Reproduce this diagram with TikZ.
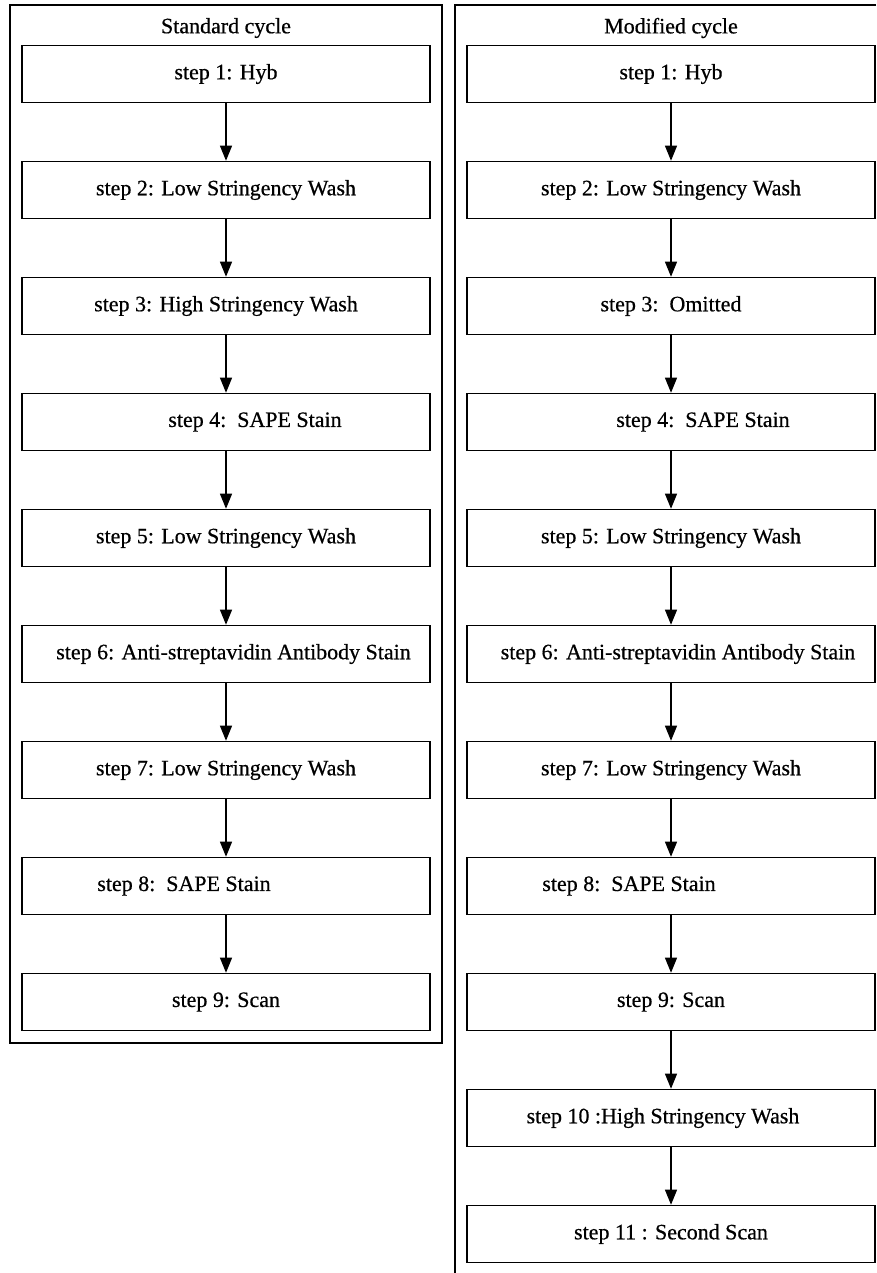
\documentclass[tikz,border=0pt]{standalone}
\usepackage{fontspec}
\setmainfont{Liberation Serif}
\newfontface\stepfont[FakeBold=0.6]{Liberation Serif}
\usetikzlibrary{arrows.meta, positioning}
\tikzstyle{stepbox} = [
    rectangle, 
    minimum width=8.16cm, 
    minimum height=1.15cm,
    text centered, 
    draw=black, 
    line width=0.6pt,
    font=\stepfont\fontsize{12.5}{15}\selectfont
]
\tikzstyle{cluster} = [
    draw=black, 
    line width=0.6pt
]
\tikzstyle{title} = [font=\stepfont\fontsize{12.5}{15}\selectfont]
\tikzstyle{arrow} = [line width=0.6pt,-{Triangle[length=0.3cm, width=0.24cm]}]

\begin{document}
\begin{tikzpicture}[node distance=2.32cm]
\useasboundingbox (0,0) rectangle (17.52,-25.46);

% Frames
\draw [cluster] (0.2,-0.1) rectangle (8.84,-20.86);
\draw [cluster] (17.52,-0.1) -| (9.1,-25.46);

% Standard cycle
\node (s1) [stepbox] at (4.52,-1.48) {step 1: Hyb};
\node (stitle) [title, above of=s1, yshift=-1.40cm] {Standard cycle};
\node (s2) [stepbox, below of=s1] {step 2: Low Stringency Wash};
\node (s3) [stepbox, below of=s2] {step 3: High Stringency Wash};
\node (s4) [stepbox, below of=s3] {\hspace*{1.16cm}step 4:\ \ SAPE Stain};
\node (s5) [stepbox, below of=s4] {step 5: Low Stringency Wash};
\node (s6) [stepbox, below of=s5] {\hspace*{0.3cm}step 6: Anti-streptavidin Antibody Stain};
\node (s7) [stepbox, below of=s6] {step 7: Low Stringency Wash};
\node (s8) [stepbox, below of=s7] {step 8:\ \ SAPE Stain\hspace*{1.68cm}};
\node (s9) [stepbox, below of=s8] {step 9: Scan};

% Modified cycle
\node (m1) [stepbox, right of=s1, xshift=6.58cm] {step 1: Hyb};
\node (mtitle) [title, above of=m1, yshift=-1.40cm] {Modified cycle};
\node (m2) [stepbox, below of=m1] {step 2: Low Stringency Wash};
\node (m3) [stepbox, below of=m2] {step 3:\ \ Omitted};
\node (m4) [stepbox, below of=m3] {\hspace*{1.28cm}step 4:\ \ SAPE Stain};
\node (m5) [stepbox, below of=m4] {step 5: Low Stringency Wash};
\node (m6) [stepbox, below of=m5] {\hspace*{0.28cm}step 6: Anti-streptavidin Antibody Stain};
\node (m7) [stepbox, below of=m6] {step 7: Low Stringency Wash};
\node (m8) [stepbox, below of=m7] {step 8:\ \ SAPE Stain\hspace*{1.68cm}};
\node (m9) [stepbox, below of=m8] {step 9: Scan};
\node (m10) [stepbox, below of=m9] {step 10 :High Stringency Wash\hspace*{0.32cm}};
\node (m11) [stepbox, below of=m10] {step 11 : Second Scan};

% Arrows
\draw [arrow] (s1) -- (s2);
\draw [arrow] (s2) -- (s3);
\draw [arrow] (s3) -- (s4);
\draw [arrow] (s4) -- (s5);
\draw [arrow] (s5) -- (s6);
\draw [arrow] (s6) -- (s7);
\draw [arrow] (s7) -- (s8);
\draw [arrow] (s8) -- (s9);
\draw [arrow] (m1) -- (m2);
\draw [arrow] (m2) -- (m3);
\draw [arrow] (m3) -- (m4);
\draw [arrow] (m4) -- (m5);
\draw [arrow] (m5) -- (m6);
\draw [arrow] (m6) -- (m7);
\draw [arrow] (m7) -- (m8);
\draw [arrow] (m8) -- (m9);
\draw [arrow] (m9) -- (m10);
\draw [arrow] (m10) -- (m11);

\end{tikzpicture}
\end{document}
